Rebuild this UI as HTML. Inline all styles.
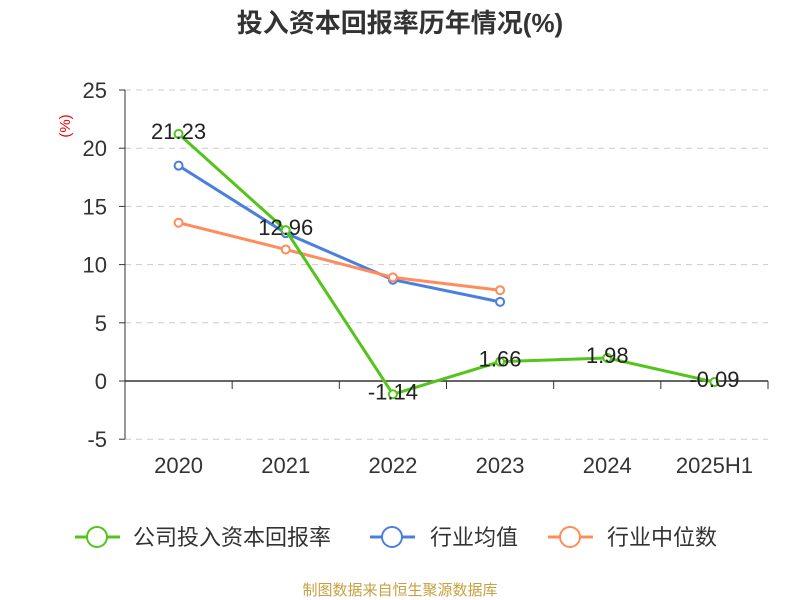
<!DOCTYPE html>
<html><head><meta charset="utf-8"><style>
body{margin:0;background:#fff;}
svg{display:block;font-family:"Liberation Sans","Noto Sans CJK SC",sans-serif;}
</style></head><body>
<svg id="c" width="800" height="600" xmlns="http://www.w3.org/2000/svg">
<text x="400" y="32" text-anchor="middle" font-size="26" font-weight="bold" fill="#333">投入资本回报率历年情况(%)</text>
<text transform="translate(70,126) rotate(-90)" text-anchor="middle" font-size="15" fill="#e00">(%)</text>
<g id="grid"></g><g id="axes"></g><g id="series"></g>
<g>
<g><line x1="75" y1="537" x2="120" y2="537" stroke="#52c41a" stroke-width="3"/><circle cx="97" cy="537" r="10" fill="#fff" stroke="#52c41a" stroke-width="2"/><text x="133" y="545" font-size="22" fill="#333">公司投入资本回报率</text></g>
<g><line x1="370" y1="537" x2="415" y2="537" stroke="#4a7fe0" stroke-width="3"/><circle cx="392" cy="537" r="10" fill="#fff" stroke="#4a7fe0" stroke-width="2"/><text x="430" y="545" font-size="22" fill="#333">行业均值</text></g>
<g><line x1="548" y1="537" x2="593" y2="537" stroke="#ff8c5a" stroke-width="3"/><circle cx="570" cy="537" r="10" fill="#fff" stroke="#ff8c5a" stroke-width="2"/><text x="607" y="545" font-size="22" fill="#333">行业中位数</text></g>
</g>
<text x="400" y="595" text-anchor="middle" font-size="15" fill="#c8a040">制图数据来自恒生聚源数据库</text>
</svg>
<script>
const categories=["2020","2021","2022","2023","2024","2025H1"];
const companyValues=[21.23,12.96,-1.14,1.66,1.98,-0.09];
const avgValues=[18.5,12.7,8.7,6.8];
const medianValues=[13.6,11.3,8.9,7.8];
const yTicks=[-5,0,5,10,15,20,25];
const NS="http://www.w3.org/2000/svg";
const L=125,R=768,band=(R-L)/categories.length;
const xs=i=>L+band*(i+0.5);
const ys=v=>381-v*11.64;
function mk(t,a,p){const e=document.createElementNS(NS,t);for(const k in a)e.setAttribute(k,a[k]);p.appendChild(e);return e;}
const grid=document.getElementById('grid'),axes=document.getElementById('axes'),ser=document.getElementById('series');
yTicks.forEach(v=>{
 if(v!==0){const g=mk('line',{x1:L,x2:R,y1:ys(v),y2:ys(v),stroke:'#ccc','stroke-dasharray':'6,5'},grid);
 
 }
 const t=mk('line',{x1:L-6,x2:L,y1:ys(v),y2:ys(v),stroke:'#333'},axes);
 
 
 const l=mk('text',{x:107,y:ys(v)+8,'text-anchor':'end','font-size':22,fill:'#333'},axes);l.textContent=v;
 
 
});
const ya=mk('line',{x1:L,x2:L,y1:ys(25),y2:ys(-5),stroke:'#333'},axes);


const xa=mk('line',{x1:L,x2:R,y1:ys(0),y2:ys(0),stroke:'#333',"stroke-width":1.5},axes);


for(let i=0;i<=categories.length;i++){const t=mk('line',{x1:L+band*i,x2:L+band*i,y1:ys(0),y2:ys(0)+8,stroke:'#333'},axes);
 
 }
categories.forEach((c,i)=>{const t=mk('text',{x:xs(i),y:473,'text-anchor':'middle','font-size':22,fill:'#333'},axes);t.textContent=c;
 
 });
function line(vals,color,name,labels){
 const g=mk('g',{},ser);
 
 
 const p=mk('polyline',{points:vals.map((v,i)=>xs(i)+','+ys(v)).join(' '),fill:'none',stroke:color,'stroke-width':3},g);
 
 
 vals.forEach((v,i)=>{const c=mk('circle',{cx:xs(i),cy:ys(v),r:4,fill:'#fff',stroke:color,'stroke-width':2},g);
  
  });
 if(labels)vals.forEach((v,i)=>{const t=mk('text',{x:xs(i),y:ys(v)+5,'text-anchor':'middle','font-size':22,fill:'#222'},g);t.textContent=v.toFixed(2);
  
  });
}
line(avgValues,'#4a7fe0','industry-average',false);
line(medianValues,'#ff8c5a','industry-median',false);
line(companyValues,'#52c41a','company-roic',true);
</script>
</body></html>
